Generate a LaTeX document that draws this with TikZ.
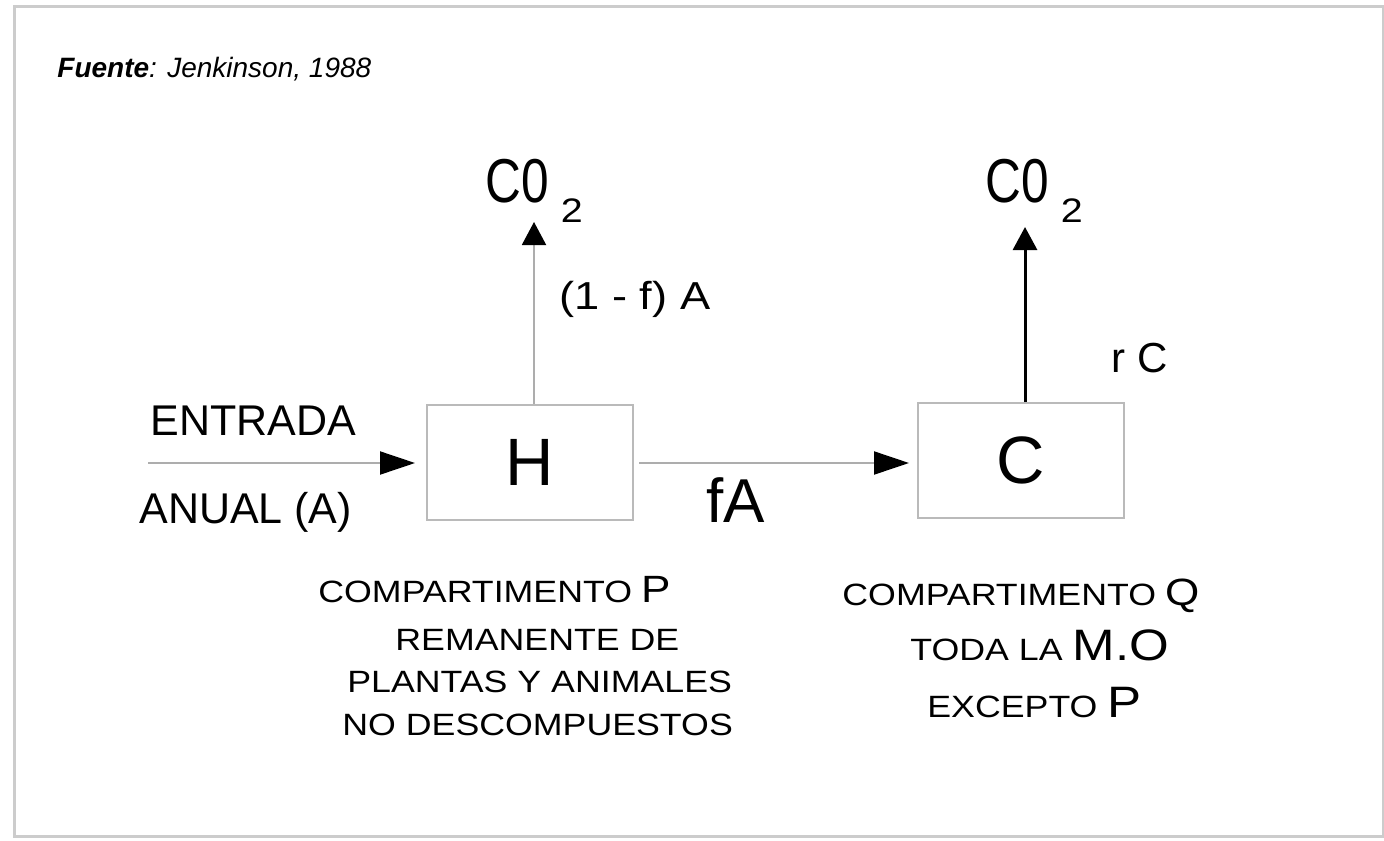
\documentclass[tikz,border=0pt]{standalone}
\usepackage{fontspec}
\setmainfont{Liberation Sans}
\newfontfamily\wide[FakeStretch=1.16]{Liberation Sans}
\newfontfamily\tall[FakeStretch=0.8]{Liberation Sans}
\usetikzlibrary{arrows.meta}
\newcommand{\fsize}[1]{\fontsize{#1}{#1}\selectfont}
\newcommand{\cdos}{{\tall\fsize{31}C0}\hspace{6pt}\raisebox{-10pt}{\wide\fsize{17}2}}

\begin{document}
\begin{tikzpicture}[x=0.5pt,y=-0.5pt,
    caja/.style={draw=black!27,line width=1pt,minimum width=103pt,minimum height=57.5pt,inner sep=0pt,font=\fsize{33.5}},
    flujo/.style={draw=black!32,line width=1pt},
    punta/.style={-{Triangle[length=17.5pt,width=11.5pt,color=black]}},
    puntav/.style={-{Triangle[length=11.5pt,width=12pt,color=black]}},
    texto/.style={inner sep=0pt,anchor=base west}]
    \useasboundingbox (0,0) rectangle (1384,840);
    \draw[black!20,line width=1.5pt] (14,7) rectangle (1383,836);
    \node[texto,font=\fsize{14}\itshape] (fuente) at (57,77) {{\bfseries Fuente}: Jenkinson, 1988};
    % compartimentos
    \node[caja] (H) at (530,462.5) {H};
    \node[caja] (C) at (1021,460.5) {C};
    % textos de flujo
    \node[texto,font=\fsize{21.5}] (entrada) at (150,435) {ENTRADA};
    \node[texto,font=\fsize{21.5}] (anual) at (139,523) {ANUAL (A)};
    \node[texto] (co2H) at (485,202) {\cdos};
    \node[texto] (co2C) at (985,202) {\cdos};
    \node[texto,font=\wide\fsize{19.5}] (unof) at (559,309) {(1 - f) A};
    \node[texto,font=\fsize{21}] (rC) at (1111,372) {r C};
    \node[texto,font=\fsize{31}] (fA) at (706,522) {fA};
    \coordinate (inicio) at (148,463);
    \coordinate (tipH) at (534,222);
    \coordinate (tipC) at (1025,227);
    % flechas
    \draw[flujo,punta,shorten >=5.5pt] (inicio) -- (H.west |- inicio);
    \draw[flujo,punta,shorten <=2.5pt,shorten >=4pt] (H.east |- inicio) -- (C.west |- inicio);
    \draw[flujo,puntav] (H.north -| tipH) -- (tipH);
    \draw[line width=1.5pt,puntav] (C.north -| tipC) -- (tipC);
    % leyendas
    \node[texto,font=\wide\fsize{15.4}] (compP) at (318,602) {COMPARTIMENTO {\fsize{19}P}};
    \node[texto,font=\wide\fsize{15.4}] (remanente) at (395,650) {REMANENTE DE};
    \node[texto,font=\wide\fsize{15.4}] (plantas) at (347,692) {PLANTAS Y ANIMALES};
    \node[texto,font=\wide\fsize{15.4}] (nodesc) at (342,735) {NO DESCOMPUESTOS};
    \node[texto,font=\wide\fsize{15.4}] (compQ) at (842,605) {COMPARTIMENTO {\fsize{19}Q}};
    \node[texto,font=\wide\fsize{15.4}] (todaMO) at (910,660) {TODA LA {\fsize{22}M.O}};
    \node[texto,font=\wide\fsize{15.4}] (exceptoP) at (927,717) {EXCEPTO {\fsize{22}P}};
\end{tikzpicture}
\end{document}
